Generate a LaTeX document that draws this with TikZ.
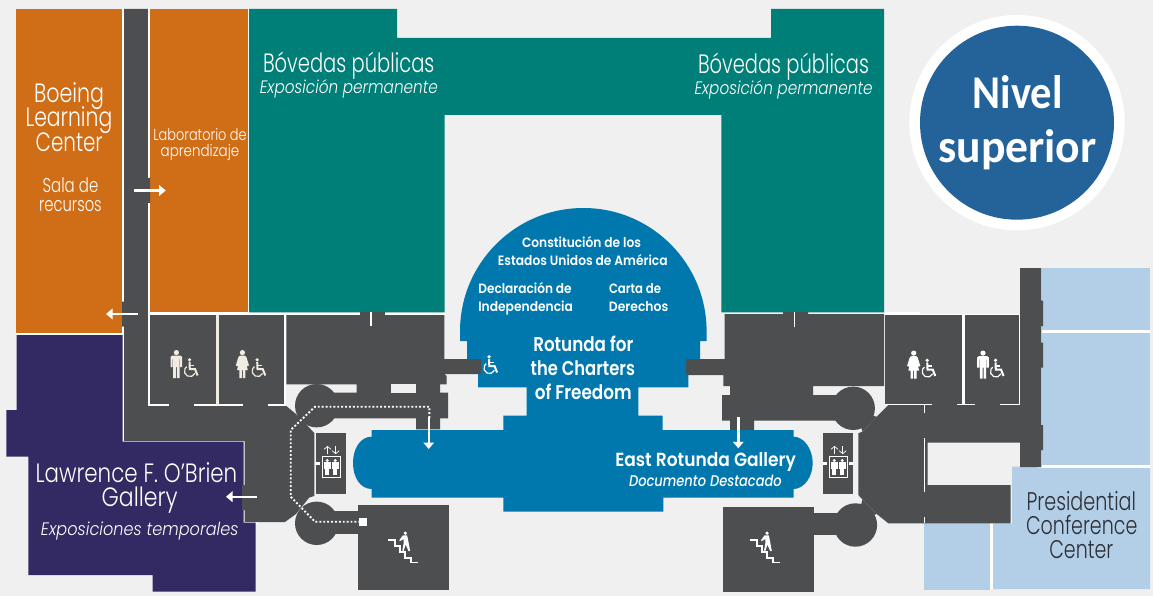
\documentclass[tikz,border=0pt]{standalone}
\usepackage{graphicx}
\usepackage{fontspec}
\usetikzlibrary{arrows.meta}
\setmainfont{Lato}
\newfontfamily\futl{Poppins Light}
\newfontfamily\futli{Poppins Light}[ItalicFont=* Italic]
\newfontfamily\futm{Poppins SemiBold}
\newfontfamily\futmi{Poppins Medium}[ItalicFont=* Italic]
\newfontfamily\carl{Carlito}
\definecolor{bgc}{HTML}{F0F0F0}
\definecolor{grayc}{HTML}{4D4E50}
\definecolor{orangec}{HTML}{D06E17}
\definecolor{tealc}{HTML}{007F78}
\definecolor{purplec}{HTML}{342A63}
\definecolor{bluec}{HTML}{0078AD}
\definecolor{lightc}{HTML}{B3CFE8}
\definecolor{navyc}{HTML}{236399}
\definecolor{creamc}{HTML}{F1ECE2}
\definecolor{inkc}{HTML}{2E2E35}
% name, cx, baseline y, width, size, font, colour, text
\newcommand\lbl[8]{\node[anchor=base,inner sep=0pt,text=#7] (#1) at (#2,#3)
  {\resizebox{#4pt}{\height}{\fontsize{#5pt}{#5pt}\selectfont #6#8}};}
\newcommand\manicon[2]{\begin{scope}[shift={(#1)}]
  \fill[#2] (5.7,2.6) circle[radius=2.6];
  \fill[#2] (1.5,5.6) -- (9.8,5.6) -- (11.5,7) -- (11.5,17) -- (9.4,17) -- (9.4,9) -- (8.9,9) -- (8.9,28) -- (6.2,28) -- (6.2,17) -- (5.2,17) -- (5.2,28) -- (2.5,28) -- (2.5,9) -- (2,9) -- (2,17) -- (-0.1,17) -- (-0.1,7) -- cycle;
\end{scope}}
\newcommand\womanicon[2]{\begin{scope}[shift={(#1)}]
  \fill[#2] (6.4,2.6) circle[radius=2.6];
  \fill[#2] (4,5.6) -- (8.8,5.6) -- (10.4,7) -- (13,15.5) -- (11.2,16.2) -- (9.8,12) -- (11.8,20) -- (9.4,20) -- (9.4,28) -- (6.9,28) -- (6.9,20) -- (5.9,20) -- (5.9,28) -- (3.4,28) -- (3.4,20) -- (1,20) -- (3,12) -- (1.6,16.2) -- (-0.2,15.5) -- (2.4,7) -- cycle;
\end{scope}}
\newcommand\wheelicon[2]{\begin{scope}[shift={(#1)}]
  \fill[#2] (5.5,1.8) circle[radius=1.8];
  \draw[#2,line width=2pt] (5.5,4) -- (5.8,11) -- (11,11) -- (13.6,17.5);
  \draw[#2,line width=1.4pt] (5.6,7.6) -- (10,7.6);
  \draw[#2,line width=1.2pt] (10.9,15.4) arc[start angle=25,end angle=235,radius=5.5];
\end{scope}}
\newcommand\stairicon[1]{\begin{scope}[shift={(#1)}]
  \draw[white,line width=1.7pt] (0,0) -- (6.7,0) -- (6.7,6) -- (11.7,6) -- (11.7,12) -- (16.7,12) -- (16.7,17.7) -- (22.7,17.7) -- (22.7,22.4) -- (29.5,22.4);
  \fill[white] (17,-6.8) circle[radius=1.8];
  \fill[white] (14.6,-4.7) -- (18.8,-4.7) -- (20,1) -- (21.8,10.8) -- (20.2,11.2) -- (17.4,4.5) -- (15.4,11) -- (14,10.6) -- (15.4,3) -- (15.4,-1) -- (11.5,1.2) -- (11,0.2) -- cycle;
\end{scope}}
\newcommand\elevicon[1]{\begin{scope}[shift={(#1)}]
  \draw[white,line width=0.9pt] (0,0) rectangle (18.7,20.6);
  \fill[white] (5.3,3.8) circle[radius=1.6];
  \fill[white] (13.3,3.8) circle[radius=1.6];
  \fill[white] (2,5.6) rectangle (8.6,12);
  \fill[white] (3.3,12) rectangle (7.3,18.5);
  \fill[white] (10,5.6) rectangle (16.6,12);
  \fill[white] (11.3,12) rectangle (15.3,18.5);
  \draw[white,line width=0.7pt,-{Straight Barb[length=3pt,width=7pt]}] (5.5,-2.5) -- (5.5,-10.8);
  \draw[white,line width=0.7pt,-{Straight Barb[length=3pt,width=7pt]}] (13.7,-10.8) -- (13.7,-2.5);
\end{scope}}
\tikzset{
  graywall/.style={fill=grayc},
  whiteline/.style={draw=white,line width=1.6pt},
  creamline/.style={draw=creamc,line width=2.6pt},
  doorarrow/.style={white,line width=2.4pt,-{Triangle[length=6.5pt,width=10.5pt]}},
  routedots/.style={white,line width=1.9pt,dash pattern=on 1.9pt off 2pt}
}
\begin{document}
\begin{tikzpicture}[x=1pt,y=-1pt]
\useasboundingbox (0,0) rectangle (1153,596);
\fill[bgc] (0,0) rectangle (1153,596);
% white backing strips
\fill[white] (16,9) rectangle (249,335);
\fill[white] (120,333) rectangle (150,444);
\fill[white] (120,438) rectangle (246,444);
\fill[white] (241,438) rectangle (246,524);
\fill[white] (241,520) rectangle (258,524);
\fill[white] (885,312) rectangle (920,316);
\fill[white] (1041,268) rectangle (1150,589);
\fill[white] (924,521) rectangle (1150,589);
% coloured rooms
\fill[orangec] (16,9) rectangle (122,333);
\fill[orangec] (150,9) rectangle (248,312);
\fill[tealc] (249,9) -- (397,9) -- (397,38) -- (771,38) -- (771,9) -- (884,9) -- (884,312.3) -- (721.3,312.3) -- (721.3,115) -- (444.7,115) -- (444.7,312.3) -- (249,312.3) -- cycle;
\fill[purplec] (16.5,335) -- (122.7,335) -- (122.7,441.7) -- (243.5,441.7) -- (243.5,522.5) -- (255.7,522.5) -- (255.7,591.7) -- (152.7,591.7) -- (152.7,575) -- (28.3,575) -- (28.3,456.7) -- (6.3,456.7) -- (6.3,410) -- (16.5,410) -- cycle;
% light blue rooms
\fill[lightc] (1041.7,268) rectangle (1150,330);
\fill[lightc] (1041.7,332.7) rectangle (1150,465);
\fill[lightc] (1012,466.7) -- (1037,466.7) -- (1037,468) -- (1150,468) -- (1150,589) -- (993,589) -- (993,523.3) -- (1012,523.3) -- cycle;
\fill[lightc] (924,523.3) rectangle (990,590);
% gray corridors, west
\fill[graywall] (124,9) -- (148,9) -- (148,177.7) -- (150,177.7) -- (150,203) -- (148,203) -- (148,405) -- (285,405) -- (296,414) -- (309.3,427.7) -- (314.3,433) -- (314.3,496) -- (309.3,497.5) -- (296,514) -- (285,522) -- (244.5,522) -- (244.5,510) -- (242,510) -- (242,485) -- (244.5,485) -- (244.5,441) -- (124,441) -- (124,326.7) -- (122,326.7) -- (122,301.7) -- (124,301.7) -- cycle;
\fill[graywall] (150,315) rectangle (284,405);
\fill[graywall] (360,312) -- (385,312) -- (385,315) -- (444.3,315) -- (444.3,359) -- (481,359) -- (481,374) -- (444.3,374) -- (446.7,376) -- (446.7,384.3) -- (440,384.3) -- (440,392.7) -- (448,392.7) -- (448,418.3) -- (440,418.3) -- (440,429.3) -- (416,429.3) -- (416,418.3) -- (316,418.3) -- (316,392.7) -- (356.7,392.7) -- (356.7,384.3) -- (286.3,384.3) -- (286.3,315) -- (360,315) -- cycle;
\fill[bgc] (390.7,384.3) rectangle (416,392.7);
\fill[graywall] (416,384.3) rectangle (440,393);
\fill[graywall] (356.7,384.3) rectangle (390.7,393);
\fill[graywall] (316.7,405.7) circle[radius=21.7];
\fill[graywall] (316.7,523.3) circle[radius=21.7];
\fill[graywall] (316,511) rectangle (360,534);
\fill[graywall] (358,505) rectangle (449,590);
\fill[graywall] (315.7,433.3) rectangle (346,494);
% gray corridors, east
\fill[graywall] (876.7,416.7) -- (888.3,405) -- (1020,405) -- (1020,268) -- (1041.3,268) -- (1041.3,300.7) -- (1043,300.7) -- (1043,326) -- (1041.3,326) -- (1041.3,342.7) -- (1043,342.7) -- (1043,367.7) -- (1041.3,367.7) -- (1041.3,425) -- (1043,425) -- (1043,450) -- (1041.3,450) -- (1041.3,467) -- (1020,467) -- (1020,442.7) -- (927.7,442.7) -- (927.7,485) -- (1010.7,485) -- (1010.7,523.3) -- (888.3,523.3) -- (876.7,514) -- (862.3,499.3) -- (858.3,495) -- (858.3,433.3) -- (862.3,431.7) -- cycle;
\fill[graywall] (862.3,431.7) -- (876.7,416.7) -- (858,412) -- cycle;
\fill[graywall] (862.3,499.3) -- (876.7,514) -- (858,520) -- cycle;
\fill[graywall] (885,315) rectangle (1019,405);
\fill[graywall] (783,312) -- (808,312) -- (808,314) -- (884,314) -- (884,386) -- (813,386) -- (813,395) -- (852,395) -- (852,420.7) -- (754,420.7) -- (754,431.7) -- (730,431.7) -- (730,420.7) -- (722,420.7) -- (722,395) -- (730,395) -- (730,386) -- (723.3,386) -- (723.3,375) -- (686,375) -- (686,359) -- (724.7,359) -- (724.7,314) -- (783,314) -- cycle;
\fill[graywall] (730,386) rectangle (754,396);
\fill[graywall] (779,386) rectangle (813,396);
\fill[graywall] (853.2,408.3) circle[radius=21.7];
\fill[graywall] (855.4,525) circle[radius=21.7];
\fill[graywall] (814,512.7) rectangle (856,535);
\fill[graywall] (723.3,506.7) rectangle (814.3,591.7);
\fill[graywall] (823,432.7) rectangle (853,494);
% rotunda
\fill[bluec] (460,341) -- (460,331.3) arc[start angle=180,end angle=360,radius=123.3] -- (706.7,341) -- (700,341) -- (700,359) -- (686,359) -- (686,375) -- (688.3,375) -- (688.3,387.3) -- (638.3,387.3) -- (638.3,415.7) -- (662.7,415.7) -- (662.7,430) -- (793.5,430) -- (793.5,436.7) .. controls (804,436.7) and (812.7,449) .. (812.7,463) .. controls (812.7,477) and (804,489) .. (793.5,489) -- (793.5,497.7) -- (663.3,497.7) -- (663.3,511.7) -- (503.3,511.7) -- (503.3,497.7) -- (371.7,497.7) -- (371.7,489) .. controls (360,489) and (353,477) .. (353,463) .. controls (353,449) and (360,436.7) .. (371.7,436.7) -- (371.7,430) -- (503.3,430) -- (503.3,415.7) -- (526.7,415.7) -- (526.7,387.3) -- (478,387.3) -- (478,374) -- (481,374) -- (481,359) -- (467,359) -- (467,341) -- cycle;
% wall lines west
\draw[whiteline] (148.5,9) -- (148.5,177.7) (148.5,203) -- (148.5,313.7);
\draw[whiteline] (148,313.7) -- (360,313.7) (385,313.7) -- (444.5,313.7);
\draw[whiteline] (370.7,312) -- (370.7,326);
\draw[whiteline] (149,313) -- (149,405) -- (169,405) (194,405) -- (243,405) (268,405) -- (285,405) -- (285,313);
\draw[creamline] (217.5,315) -- (217.5,405);
% wall lines east
\draw[whiteline] (794.3,312) -- (794.3,326.7);
\draw[whiteline] (924.3,405) -- (924.3,413) (924.3,438) -- (924.3,491.7) (924.3,517) -- (924.3,523.3);
\draw[draw=white,line width=1pt] (885,314.5) -- (1019,314.5) -- (1019,404.5) -- (1000,404.5) (975,404.5) -- (957,404.5) (931.7,404.5) -- (885,404.5);
\draw[draw=white,line width=2.4pt] (963.5,315) -- (963.5,405);
% lift door ticks
\fill[white] (315,461.7) rectangle (320,465);
\fill[white] (823,461.7) rectangle (827,465);
\fill[white] (849,461.7) rectangle (853,465);
% route
\draw[routedots] (429.3,418) -- (429.3,406.7) -- (315,406.7) -- (290.7,430) -- (290.7,496.7) -- (315,521.7) -- (359,521.7);
\fill[white] (359,518) rectangle (367,526);
% arrows
\coordinate (a1s) at (134,190.5); \coordinate (a1e) at (165.7,190.5);
\coordinate (a2s) at (138,314); \coordinate (a2e) at (106,314);
\coordinate (a3s) at (257,496.7); \coordinate (a3e) at (226,496.7);
\coordinate (a4s) at (428.7,417); \coordinate (a4e) at (428.7,449);
\coordinate (a5s) at (738.3,417.3); \coordinate (a5e) at (738.3,448.3);
\draw[doorarrow] (a1s) -- (a1e);
\draw[doorarrow] (a2s) -- (a2e);
\draw[doorarrow] (a3s) -- (a3e);
\draw[doorarrow] (a4s) -- (a4e);
\draw[doorarrow] (a5s) -- (a5e);
% icons
\manicon{170.7,350}{creamc} \wheelicon{184,358}{creamc}
\womanicon{236,350}{creamc} \wheelicon{251.7,358}{creamc}
\womanicon{907.3,350.5}{white} \wheelicon{921.7,358.5}{white}
\manicon{977.3,350.5}{white} \wheelicon{990,358.5}{white}
\wheelicon{483.5,355}{white}
\stairicon{388.3,540}
\stairicon{750,540}
\elevicon{322,456.7}
\elevicon{829,456.7}
% level badge
\fill[white] (1017,122.7) circle[radius=107.7];
\fill[navyc] (1017,122.7) circle[radius=97];
\lbl{nivel}{1017.7}{108.8}{90}{47}{\carl\bfseries}{white}{Nivel}
\lbl{superior}{1017.5}{162.2}{158.4}{47}{\carl\bfseries}{white}{superior}
% labels
\lbl{boe1}{69}{102.7}{70}{26.5}{\futl}{white}{Boeing}
\lbl{boe2}{69}{127}{86.6}{26.5}{\futl}{white}{Learning}
\lbl{boe3}{69.2}{152}{67}{26.5}{\futl}{white}{Center}
\lbl{sala1}{70.5}{192.2}{55.6}{20}{\futl}{white}{Sala de}
\lbl{sala2}{70.4}{211.2}{62.7}{20}{\futl}{white}{recursos}
\lbl{lab1}{200}{140.5}{93.4}{16}{\futl}{white}{Laboratorio de}
\lbl{lab2}{200}{156.2}{78.6}{16}{\futl}{white}{aprendizaje}
\lbl{bov1}{348.7}{72.7}{171.4}{26.5}{\futl}{white}{Bóvedas públicas}
\lbl{bov2}{783.5}{73.7}{171}{26.5}{\futl}{white}{Bóvedas públicas}
\lbl{exp1}{348.8}{94}{178}{18}{\futli\itshape}{white}{Exposición permanente}
\lbl{exp2}{783.5}{94.7}{178}{18}{\futli\itshape}{white}{Exposición permanente}
\lbl{con1}{581.5}{247.3}{119}{13.5}{\futm}{white}{Constitución de los}
\lbl{con2}{582.8}{265.7}{169.7}{13.5}{\futm}{white}{Estados Unidos de América}
\lbl{dec1}{525}{293.3}{93.4}{13.5}{\futm}{white}{Declaración de}
\lbl{dec2}{525.6}{311.7}{94.7}{13.5}{\futm}{white}{Independencia}
\lbl{car1}{635}{293.3}{52}{13.5}{\futm}{white}{Carta de}
\lbl{car2}{638.6}{311.7}{59.3}{13.5}{\futm}{white}{Derechos}
\lbl{rot1}{583.3}{351.7}{100}{20}{\futm}{white}{Rotunda for}
\lbl{rot2}{582.8}{375}{104.3}{20}{\futm}{white}{the Charters}
\lbl{rot3}{583.3}{399}{96.7}{20}{\futm}{white}{of Freedom}
\lbl{eas1}{705.6}{466}{180.7}{19}{\futm}{white}{East Rotunda Gallery}
\lbl{eas2}{705.4}{486}{152.7}{15.5}{\futmi\itshape}{white}{Documento Destacado}
\lbl{law1}{136.5}{482}{201.6}{26.5}{\futl}{white}{Lawrence F. O’Brien}
\lbl{law2}{139.7}{506.7}{76}{26.5}{\futl}{white}{Gallery}
\lbl{law3}{139.8}{535.5}{197.7}{18}{\futli\itshape}{white}{Exposiciones temporales}
\lbl{pre1}{1081.3}{510.5}{109.3}{25.5}{\futl}{inkc}{Presidential}
\lbl{pre2}{1081.7}{534}{111.3}{25.5}{\futl}{inkc}{Conference}
\lbl{pre3}{1081.3}{558}{64}{25.5}{\futl}{inkc}{Center}
\end{tikzpicture}
\end{document}
